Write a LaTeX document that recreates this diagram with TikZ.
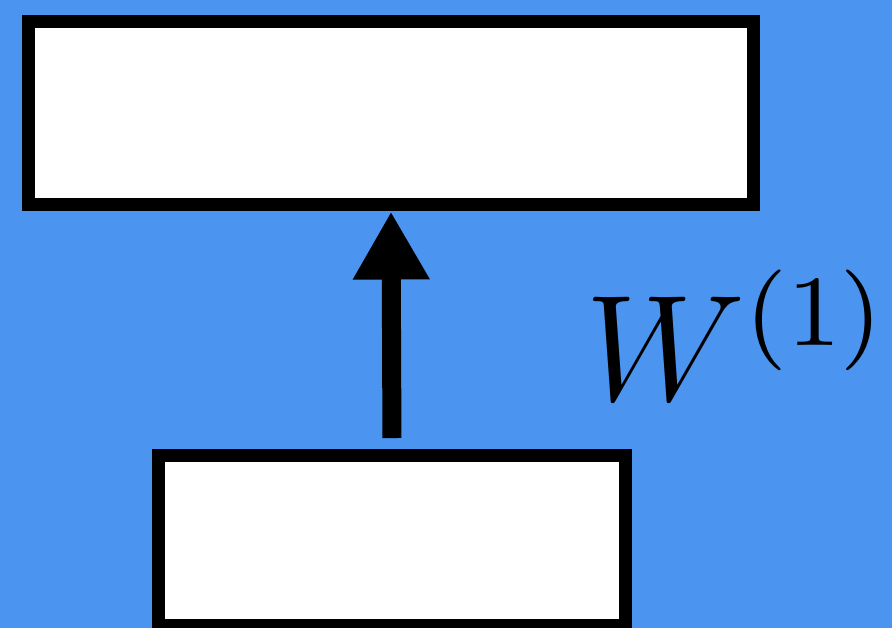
\documentclass[tikz,border=0pt]{standalone}
\usetikzlibrary{arrows.meta}
\definecolor{bgblue}{HTML}{4B94F0}
\begin{document}
\begin{tikzpicture}[x=0.02cm,y=-0.02cm,
  layerbox/.style={draw=black,fill=white,line width=0.26cm,inner sep=0pt},
  weight/.style={line width=0.38cm,-{Triangle[length=1.36cm,width=1.44cm]}}]
  \useasboundingbox (0,0) rectangle (892,628);
  \fill[bgblue] (0,0) rectangle (892,628);
  \clip (0,0) rectangle (892,628);
  \node[layerbox,minimum width=14.52cm,minimum height=3.68cm] (top) at (391,113) {};
  \node[layerbox,minimum width=9.34cm,minimum height=3.4cm] (bottom) at (392,540.5) {};
  \draw[weight,shorten <=0.22cm] (bottom.north) -- (top.south);
  \node[anchor=base west,inner sep=0pt,scale=7.17] (w) at (583,400)
    {\fontsize{12}{14.5}\selectfont$W^{(1)}$};
\end{tikzpicture}
\end{document}
